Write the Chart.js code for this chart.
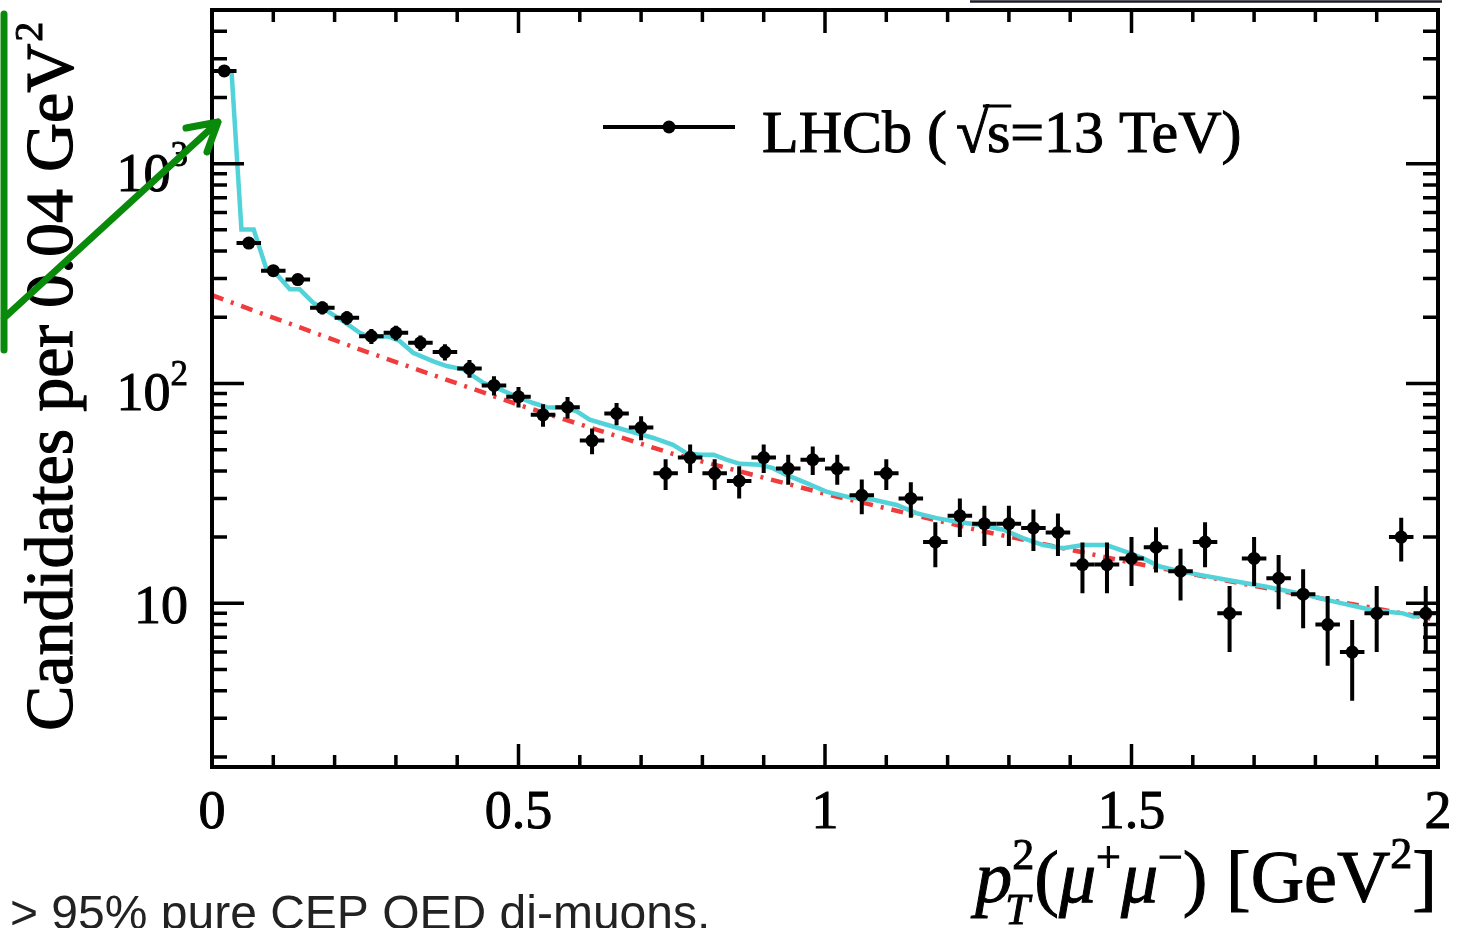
<!DOCTYPE html>
<html>
<head>
<meta charset="utf-8">
<title>LHCb pT2 dimuon</title>
<script src="https://cdn.jsdelivr.net/npm/chart.js@4.4.1/dist/chart.umd.min.js"></script>
<style>
  html, body { margin: 0; padding: 0; background: #fff; }
  #wrap { position: relative; width: 1457px; height: 928px; overflow: hidden; }
</style>
</head>
<body>
<div id="wrap"><canvas id="ptChart" width="1457" height="928"></canvas></div>
<script>
// bin centres (0.04 GeV^2 bins) and candidates per bin
const binCenters = [0.02, 0.06, 0.10, 0.14, 0.18, 0.22, 0.26, 0.30, 0.34, 0.38,
                    0.42, 0.46, 0.50, 0.54, 0.58, 0.62, 0.66, 0.70, 0.74, 0.78,
                    0.82, 0.86, 0.90, 0.94, 0.98, 1.02, 1.06, 1.10, 1.14, 1.18,
                    1.22, 1.26, 1.30, 1.34, 1.38, 1.42, 1.46, 1.50, 1.54, 1.58,
                    1.62, 1.66, 1.70, 1.74, 1.78, 1.82, 1.86, 1.90, 1.94, 1.98];
const candidates = [2640, 435, 326, 297, 221, 199, 164, 170, 153, 139,
                    117, 98, 87, 72, 78, 55, 73, 63, 39, 46,
                    39, 36, 46, 41, 45, 41, 31, 39, 30, 19,
                    25, 23, 23, 22, 21, 15, 15, 16, 18, 14,
                    19, 9, 16, 13, 11, 8, 6, 9, 20, 9];
const candErrors = [51.4, 20.9, 18.1, 17.2, 14.9, 14.1, 12.8, 13.0, 12.4, 11.8,
                    10.8, 9.9, 9.3, 8.5, 8.8, 7.4, 8.5, 7.9, 6.2, 6.8,
                    6.2, 6.0, 6.8, 6.4, 6.7, 6.4, 5.6, 6.2, 5.5, 4.4,
                    5.0, 4.8, 4.8, 4.7, 4.6, 3.9, 3.9, 4.0, 4.2, 3.7,
                    4.4, 3.0, 4.0, 3.6, 3.3, 2.8, 2.4, 3.0, 4.5, 3.0];
const binHalfWidth = 0.02;

// full fit (cyan)
const modelX = [0.010, 0.032, 0.048, 0.068, 0.089, 0.108, 0.127, 0.143, 0.165, 0.192,
                0.214, 0.241, 0.257, 0.287, 0.306, 0.328, 0.361, 0.383, 0.410, 0.442,
                0.470, 0.497, 0.524, 0.546, 0.578, 0.595, 0.616, 0.644, 0.682, 0.720,
                0.752, 0.774, 0.796, 0.818, 0.839, 0.861, 0.894, 0.915, 0.937, 0.970,
                1.002, 1.041, 1.079, 1.117, 1.149, 1.182, 1.215, 1.253, 1.291, 1.323,
                1.356, 1.388, 1.421, 1.459, 1.497, 1.519, 1.546, 1.584, 1.655, 1.720,
                1.786, 1.829, 1.894, 1.943, 1.959, 1.990];
const modelY = [2642, 2598, 502, 502, 330, 308, 268, 268, 233, 210,
                192, 170, 163, 164, 156, 138, 126, 120, 116, 101,
                94, 87, 81.5, 78, 77.3, 74.7, 68.4, 64.9, 60.5, 56.5,
                52.6, 48.2, 47.4, 47.4, 45, 43.1, 42.7, 41.2, 38.4, 35.2,
                32.2, 30.3, 29.6, 28.0, 25.7, 24.4, 23.5, 22.7, 21.6, 19.8,
                18.4, 17.8, 18.4, 18.4, 16.9, 16.0, 14.7, 13.9, 12.8, 11.9,
                10.9, 10.2, 9.3, 9.0, 8.7, 8.85];

// background component (red dash-dot)
const bkgX = [0.0, 0.25, 0.5, 0.75, 1.0, 1.25, 1.5, 1.75, 2.0];
const bkgY = [252, 140, 80, 48, 31.5, 21.5, 15.3, 11.3, 8.4];

const xTickValues = [0, 0.5, 1, 1.5, 2];
const xTickLabels = ['0', '0.5', '1', '1.5', '2'];
const yTickValues = [10, 100, 1000];
const yTickLabels = [['10', ''], ['10', '2'], ['10', '3']];

const SERIF = "'Liberation Serif', 'Times New Roman', serif";
const SANS = "'Liberation Sans', Arial, sans-serif";

// text with a faint outline so it has the weight of the scanned figure
function heavyText(ctx, t, x, y, w) {
    ctx.fillText(t, x, y);
    ctx.lineWidth = w || 1;
    ctx.strokeText(t, x, y);
}

// vertical + horizontal error bars under the markers
const errorBars = {
    id: 'errorBars',
    beforeDatasetDraw(chart, args) {
        if (args.index !== 0) return;
        const { ctx, scales: { x, y } } = chart;
        ctx.save();
        ctx.strokeStyle = '#000';
        ctx.lineWidth = 4;
        candidates.forEach((v, i) => {
            const px = x.getPixelForValue(binCenters[i]);
            const py = y.getPixelForValue(v);
            const yLo = y.getPixelForValue(v - candErrors[i]);
            const yHi = y.getPixelForValue(v + candErrors[i]);
            const xL = x.getPixelForValue(binCenters[i] - binHalfWidth);
            const xR = x.getPixelForValue(binCenters[i] + binHalfWidth);
            ctx.beginPath();
            ctx.moveTo(px, yLo); ctx.lineTo(px, yHi);
            ctx.moveTo(xL, py); ctx.lineTo(xR, py);
            ctx.stroke();
        });
        ctx.restore();
    }
};

// frame, inward ticks, labels, titles, legend, slide annotations
const frame = {
    id: 'frame',
    afterDraw(chart) {
        const { ctx, chartArea: a, scales: { x, y } } = chart;
        ctx.save();
        ctx.strokeStyle = '#000';
        ctx.fillStyle = '#000';

        // ticks
        ctx.lineWidth = 3.5;
        ctx.beginPath();
        for (let i = 0; i <= 20; i++) {
            const px = x.getPixelForValue(i / 10);
            const len = (i % 5 === 0) ? 23 : 12;
            ctx.moveTo(px, a.bottom); ctx.lineTo(px, a.bottom - len);
            ctx.moveTo(px, a.top); ctx.lineTo(px, a.top + len);
        }
        [1, 10, 100, 1000].forEach(dec => {
            for (let m = 1; m <= 9; m++) {
                const v = m * dec;
                if (v < y.min || v > y.max) continue;
                const py = y.getPixelForValue(v);
                const len = (m === 1) ? 32 : 15;
                ctx.moveTo(a.left, py); ctx.lineTo(a.left + len, py);
                ctx.moveTo(a.right, py); ctx.lineTo(a.right - len, py);
            }
        });
        ctx.stroke();

        // box
        ctx.lineWidth = 4;
        ctx.strokeRect(a.left, a.top, a.right - a.left, a.bottom - a.top);

        // x tick labels
        ctx.font = `54px ${SERIF}`;
        ctx.textAlign = 'center';
        ctx.textBaseline = 'alphabetic';
        xTickValues.forEach((v, i) => {
            heavyText(ctx, xTickLabels[i], x.getPixelForValue(v), 828);
        });

        // y tick labels
        ctx.textAlign = 'right';
        yTickValues.forEach((v, i) => {
            const py = y.getPixelForValue(v);
            const [base, exp] = yTickLabels[i];
            if (!exp) {
                ctx.font = `54px ${SERIF}`;
                heavyText(ctx, base, 188, py + 20);
            } else {
                ctx.font = `35px ${SERIF}`;
                const ew = ctx.measureText(exp).width;
                heavyText(ctx, exp, 188, py + 2, 0.8);
                ctx.font = `54px ${SERIF}`;
                heavyText(ctx, base, 188 - ew, py + 27);
            }
        });

        // x axis title: p_T^2(mu+ mu-) [GeV^2]
        const big = 74, small = 44;
        const pieces = [
            { t: 'p', f: `italic ${big}px ${SERIF}`, dy: 0 },
            { t: '2', f: `${small}px ${SERIF}`, dy: -33, stackWith: 'T' },
            { t: '(', f: `${big}px ${SERIF}`, dy: 0 },
            { t: 'μ', f: `italic ${big}px ${SERIF}`, dy: 0 },
            { t: '+', f: `${small}px ${SERIF}`, dy: -30 },
            { t: 'μ', f: `italic ${big}px ${SERIF}`, dy: 0 },
            { t: '−', f: `${small}px ${SERIF}`, dy: -30 },
            { t: ') [GeV', f: `${big}px ${SERIF}`, dy: 0 },
            { t: '2', f: `${small}px ${SERIF}`, dy: -34 },
            { t: ']', f: `${big}px ${SERIF}`, dy: 0 }
        ];
        let total = 0;
        pieces.forEach(p => { ctx.font = p.f; p.w = ctx.measureText(p.t).width; total += p.w; });
        let cx = 1437 - total;
        const base = 902;
        ctx.textAlign = 'left';
        pieces.forEach(p => {
            ctx.font = p.f;
            heavyText(ctx, p.t, cx, base + p.dy);
            if (p.stackWith) {
                ctx.font = `italic ${small}px ${SERIF}`;
                heavyText(ctx, p.stackWith, cx - 7, base + 22);
            }
            cx += p.w;
        });

        // y axis title (rotated)
        ctx.save();
        ctx.translate(72, 731);
        ctx.rotate(-Math.PI / 2);
        ctx.font = `68px ${SERIF}`;
        ctx.textAlign = 'left';
        const yt = 'Candidates per 0.04 GeV';
        heavyText(ctx, yt, 0, 0, 1.2);
        const ytw = ctx.measureText(yt).width;
        ctx.font = `40px ${SERIF}`;
        heavyText(ctx, '2', ytw + 2, -30);
        ctx.restore();

        // legend
        ctx.lineWidth = 4;
        ctx.beginPath();
        ctx.moveTo(603, 127); ctx.lineTo(735, 127);
        ctx.stroke();
        ctx.beginPath();
        ctx.arc(669, 127, 6.5, 0, Math.PI * 2);
        ctx.fill();
        ctx.font = `60px ${SERIF}`;
        ctx.textAlign = 'left';
        let lx = 762;
        const lbase = 152;
        heavyText(ctx, 'LHCb (', lx, lbase);
        lx += ctx.measureText('LHCb (').width + 9;
        heavyText(ctx, '√', lx, lbase);
        lx += ctx.measureText('√').width - 2;
        const sw = ctx.measureText('s').width;
        heavyText(ctx, 's', lx, lbase);
        ctx.lineWidth = 3;
        ctx.beginPath();
        ctx.moveTo(lx - 4, 106); ctx.lineTo(lx + sw + 1, 106);
        ctx.stroke();
        lx += sw;
        heavyText(ctx, '=13 TeV)', lx, lbase);

        // slide footer text
        ctx.font = `48px ${SANS}`;
        ctx.fillStyle = '#222';
        ctx.fillText('> 95% pure CEP QED di-muons.', 10, 929);

        // thin rule at the top right (edge of slide element)
        ctx.strokeStyle = '#1c1c2a';
        ctx.lineWidth = 2.5;
        ctx.beginPath();
        ctx.moveTo(970, 1.5); ctx.lineTo(1442, 1.5);
        ctx.stroke();

        // green annotation: bracket line and arrow to the peak
        ctx.strokeStyle = '#0a8a0a';
        ctx.lineWidth = 7;
        ctx.lineCap = 'round';
        ctx.lineJoin = 'round';
        ctx.beginPath();
        ctx.moveTo(4, 14); ctx.lineTo(4, 350);
        ctx.moveTo(4, 318); ctx.lineTo(218, 122);
        ctx.moveTo(186, 128); ctx.lineTo(218, 122); ctx.lineTo(207, 152);
        ctx.stroke();

        ctx.restore();
    }
};

const ctx = document.getElementById('ptChart').getContext('2d');
new Chart(ctx, {
    type: 'scatter',
    data: {
        datasets: [{
            label: 'LHCb (√s=13 TeV)',
            data: binCenters.map((v, i) => ({ x: v, y: candidates[i] })),
            showLine: false,
            pointRadius: 6.5,
            pointBackgroundColor: '#000',
            pointBorderWidth: 0
        }, {
            label: 'Fit',
            data: modelX.map((v, i) => ({ x: v, y: modelY[i] })),
            showLine: true,
            borderColor: '#52d3d9',
            borderWidth: 4.5,
            pointRadius: 0
        }, {
            label: 'Background',
            data: bkgX.map((v, i) => ({ x: v, y: bkgY[i] })),
            showLine: true,
            borderColor: '#f03c3c',
            borderWidth: 4.5,
            borderDash: [12, 8, 3, 8],
            pointRadius: 0
        }]
    },
    options: {
        responsive: false,
        animation: false,
        layout: { padding: { left: 212, right: 19, top: 10, bottom: 161 } },
        plugins: {
            legend: { display: false },
            tooltip: { enabled: false }
        },
        scales: {
            x: { type: 'linear', min: 0, max: 2, display: false },
            y: { type: 'logarithmic', min: 1.8, max: 5000, display: false }
        }
    },
    plugins: [errorBars, frame]
});
</script>
</body>
</html>
